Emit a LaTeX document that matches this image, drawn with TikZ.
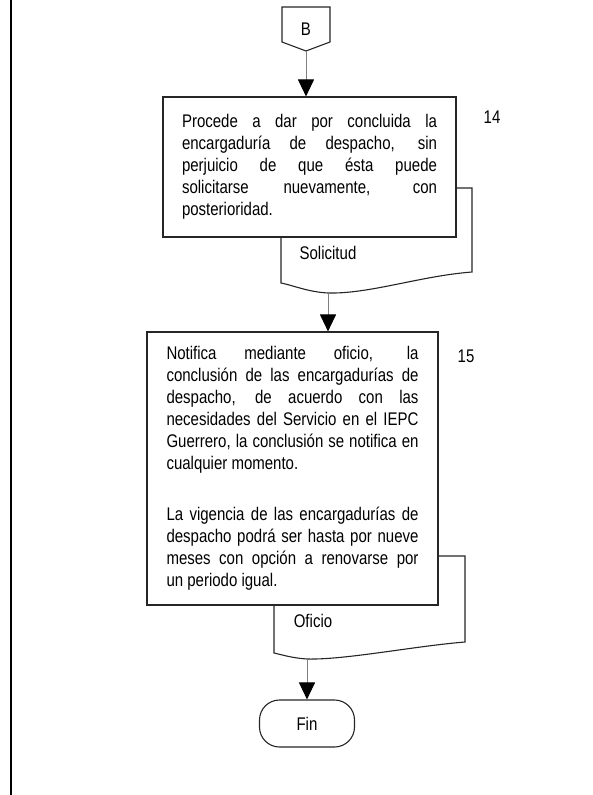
\documentclass[tikz,border=0pt]{standalone}
\usepackage{fontspec}
\setmainfont{Liberation Sans}[FakeStretch=0.82]
\usetikzlibrary{arrows.meta,calc}
\begin{document}
\begin{tikzpicture}[x=1pt,y=-1pt,
  txt/.style={font=\fontsize{18.3}{22}\selectfont},
  proc/.style={draw=black!85, line width=1.1pt, fill=white, inner sep=0pt, txt,
    execute at begin node={\tolerance=10000\hyphenpenalty=10000\relax}},
  docshape/.style={draw=black!85, line width=1.1pt, fill=white},
  conn/.style={draw=black!50, line width=1pt, -{Triangle[width=16pt,length=17pt,color=black]}},
]
\useasboundingbox (0,0) rectangle (593,795);
\draw[line width=1.3pt] (11,0) -- (11,795);

% off-page connector B
\draw[docshape] (282,7) -- (330,7) -- (330,42) -- (306,51) -- (282,42) -- cycle;
\node[txt] (B) at (306,29) {B};
\coordinate (Btip) at (306,51);

% document 1
\draw[docshape] (281,188) -- (472,188) -- (472,272) .. controls (420,276) and (370,294) .. (328,293) .. controls (308,292) and (292,285) .. (281,283) -- cycle;
\node[txt] (sol) at (328,253) {Solicitud};
\coordinate (d1b) at (328,293);

% process 1
\node[proc, minimum width=293pt, minimum height=140pt, text width=255pt, align=justify] (p1) at (309.5,167)
{Procede a dar por concluida la\linebreak encargaduría de despacho, sin\linebreak perjuicio de que ésta puede\linebreak solicitarse nuevamente, con\linebreak posterioridad.};
\node[txt] (n14) at (492,117) {14};

% document 2
\draw[docshape] (274,556) -- (465,556) -- (465,642) .. controls (415,646) and (345,660) .. (307,659) .. controls (292,658) and (283,655) .. (274,653) -- cycle;
\node[txt] (ofi) at (313,621) {Oficio};
\coordinate (d2b) at (307,659);

% process 2
\node[proc, minimum width=291pt, minimum height=273pt, text width=252pt, align=justify] (p2) at (292.5,468.5)
{Notifica mediante oficio, la\linebreak conclusión de las encargadurías de\linebreak despacho, de acuerdo con las\linebreak necesidades del Servicio en el IEPC\linebreak Guerrero, la conclusión se notifica en\linebreak cualquier momento.\par\vspace{29pt}La vigencia de las encargadurías de\linebreak despacho podrá ser hasta por nueve\linebreak meses con opción a renovarse por\linebreak un periodo igual.};
\node[txt] (n15) at (466,356) {15};

% terminal
\node[proc, rounded corners=20pt, minimum width=95pt, minimum height=47pt] (fin) at (307,723.5) {Fin};

% connectors
\draw[conn] (Btip) -- (Btip |- p1.north);
\draw[conn] (d1b) -- (d1b |- p2.north);
\draw[conn] (d2b) -- (fin.north);
\end{tikzpicture}
\end{document}
